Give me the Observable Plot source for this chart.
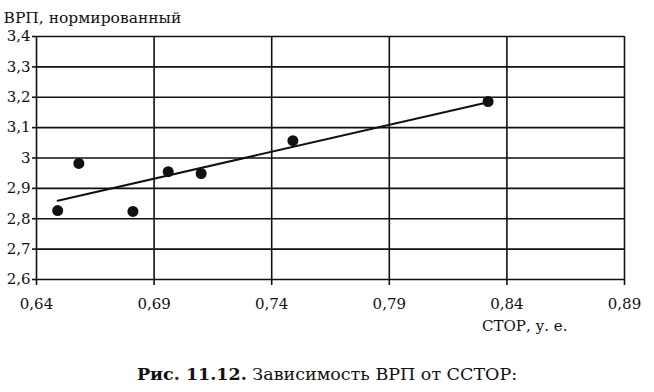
<!DOCTYPE html>
<html>
<head>
<meta charset="utf-8">
<script src="https://cdn.jsdelivr.net/npm/d3@7"></script>
<script src="https://cdn.jsdelivr.net/npm/@observablehq/plot@0.6"></script>
<style>
  html, body { margin: 0; padding: 0; background: #fff; }
  #chart { width: 654px; }
  .caption { font-family: "DejaVu Serif", serif; font-size: 17.5px; text-align: center; color: #111; margin-top: 24px; }
  .caption b { font-weight: bold; }
  #chart svg text { font-family: "DejaVu Serif", serif; }
</style>
</head>
<body>
<div id="chart"></div>
<div class="caption"><b>Рис. 11.12.</b> Зависимость ВРП от ССТОР:</div>
<script>
const stor = [0.649, 0.658, 0.681, 0.696, 0.710, 0.749, 0.832];
const vrp  = [2.827, 2.982, 2.824, 2.955, 2.949, 3.057, 3.186];
const xTicks = [0.64, 0.69, 0.74, 0.79, 0.84, 0.89];
const yTicks = [2.6, 2.7, 2.8, 2.9, 3.0, 3.1, 3.2, 3.3, 3.4];
const yLabel = "ВРП, нормированный";
const xLabel = "СТОР, у. е.";

const data = stor.map((x, i) => ({x, y: vrp[i]}));
const fmt = d => String(d).replace(".", ",");

const chart = Plot.plot({
  width: 654,
  height: 340,
  marginLeft: 36,
  marginRight: 30,
  marginTop: 36,
  marginBottom: 61,
  style: { fontFamily: "'DejaVu Serif', serif", fontSize: "15px", color: "#111", background: "#fff" },
  x: { domain: [0.64, 0.89], ticks: xTicks, tickFormat: fmt, label: null },
  y: { domain: [2.6, 3.4], ticks: yTicks, tickFormat: fmt, label: null },
  marks: [
    Plot.gridX(xTicks, { stroke: "#111", strokeOpacity: 1, strokeWidth: 1.6 }),
    Plot.gridY(yTicks, { stroke: "#111", strokeOpacity: 1, strokeWidth: 1.6 }),
    Plot.axisX({ ticks: xTicks, tickFormat: fmt, tickSize: 6, tickPadding: 13, strokeWidth: 1.6, stroke: "#111", label: null, fontSize: 15 }),
    Plot.axisY({ ticks: yTicks, tickFormat: fmt, tickSize: 4, tickPadding: 2, strokeWidth: 1.6, stroke: "#111", label: null, fontSize: 15 }),
    Plot.linearRegressionY(data, { x: "x", y: "y", ci: 0, stroke: "#111", strokeWidth: 2 }),
    Plot.dot(data, { x: "x", y: "y", r: 5.5, fill: "#111", stroke: "none" }),
    Plot.text([yLabel], { frameAnchor: "top-left", text: d => d, dx: -33, dy: -25, textAnchor: "start", fontSize: 15.5 }),
    Plot.text([xLabel], { frameAnchor: "bottom-right", text: d => d, dx: -57, dy: 51, textAnchor: "end", fontSize: 15 })
  ]
});
document.getElementById("chart").appendChild(chart);
</script>
</body>
</html>
